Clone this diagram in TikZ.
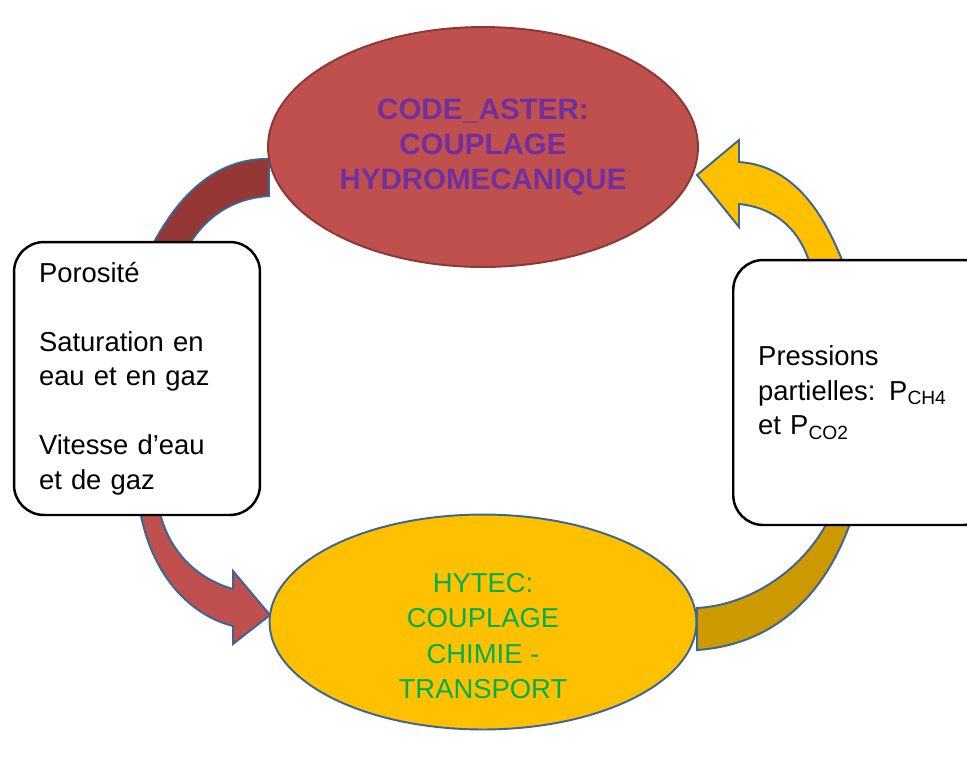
\documentclass[tikz,border=0pt]{standalone}
\usepackage{fontspec}
\setmainfont{Liberation Sans}
\usetikzlibrary{shapes.geometric}
\definecolor{AsterRed}{HTML}{C0504D}
\definecolor{AsterDark}{HTML}{953735}
\definecolor{AsterEdge}{HTML}{8C3836}
\definecolor{AsterPurple}{HTML}{7030A0}
\definecolor{HytecGold}{HTML}{FFC000}
\definecolor{HytecDark}{HTML}{CC9900}
\definecolor{HytecGreen}{HTML}{00B050}
\definecolor{LinkBlue}{HTML}{3A6594}
\tikzset{
  module/.style={ellipse,line width=1.1pt,minimum width=8.6cm,minimum height=4.8cm,align=center,font=\fontsize{15.6}{19.8}\selectfont},
  databox/.style={rectangle,rounded corners=0.6cm,draw=black,fill=white,line width=1.4pt,inner xsep=0.5cm,align=left,font=\fontsize{15.6}{19.6}\selectfont},
  band/.style={draw=LinkBlue,line width=1.1pt,line join=miter},
}
\begin{document}
\begin{tikzpicture}[x=0.02cm,y=-0.02cm]
  \useasboundingbox (0,0) rectangle (967,762);
  \clip (0,0) rectangle (967,762);

  % arrow ends
  \coordinate (bltip) at (270,615);
  \coordinate (trtip) at (697,175);

  % circular block arrows
  \path[band,fill=AsterDark] (150,250) .. controls (180,190) and (220,158) .. (269,159)
    -- (269,196) .. controls (235,198) and (205,215) .. (186,250) -- cycle;
  \path[band,fill=AsterRed] (139,505) .. controls (150,575) and (190,615) .. (233,626)
    -- (233,644) -- (bltip) -- (233,571) -- (233,589)
    .. controls (195,578) and (167,550) .. (158,505) -- cycle;
  \path[band,fill=HytecGold] (845,268) .. controls (820,200) and (785,165) .. (739,162)
    -- (739,140) -- (trtip) -- (739,227) -- (739,204)
    .. controls (770,207) and (800,225) .. (811,268) -- cycle;
  \path[band,fill=HytecDark] (853,515) .. controls (825,600) and (770,645) .. (697,650)
    -- (697,608) .. controls (750,605) and (805,570) .. (831,515) -- cycle;

  % modules
  \node[module,fill=AsterRed,draw=AsterEdge,text=AsterPurple,font=\fontsize{16.8}{19.8}\selectfont\bfseries] (aster) at (483,147) {CODE\_ASTER:\\COUPLAGE\\HYDROMECANIQUE};
  \node[module,fill=HytecGold,draw=LinkBlue,minimum width=8.54cm,minimum height=4.3cm] (hytec) at (483,622) {};
  \node[text=HytecGreen,align=center,font=\fontsize{15.6}{20.2}\selectfont] (hytectext) at (483,636) {HYTEC:\\COUPLAGE\\CHIMIE -\\TRANSPORT};

  % exchanged data
  \node[databox,text width=3.92cm,minimum height=5.46cm] (hydrodata) at (137,378.5) {Porosité\\[19.6pt]Saturation en\\eau et en gaz\\[19.6pt]Vitesse d’eau\\et de gaz};
  \node[databox,text width=4.2cm,minimum height=5.3cm,anchor=west] (chemdata) at (732,392.5) {Pressions\\partielles: P\textsubscript{CH4}\\et P\textsubscript{CO2}};

\end{tikzpicture}
\end{document}
